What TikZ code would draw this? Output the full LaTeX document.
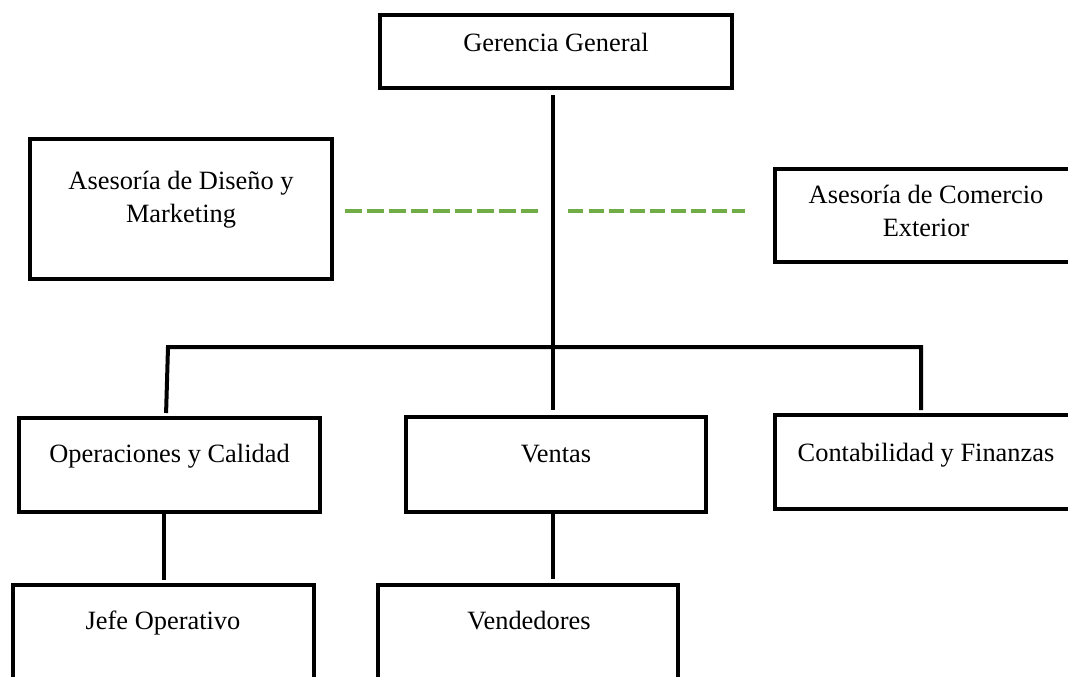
\documentclass[tikz,border=0pt]{standalone}
\usepackage{fontspec}
\setmainfont{Liberation Serif}
\definecolor{advgreen}{RGB}{112,173,71}

\begin{document}
\begin{tikzpicture}[x=1bp,y=-1bp,
    box/.style={draw,line width=4bp,rectangle,inner sep=0pt},
    lbl/.style={inner sep=0pt,align=center,font=\fontsize{26.4bp}{33bp}\selectfont},
    link/.style={line width=4bp},
    adv/.style={draw=advgreen,line width=4.5bp,dash pattern=on 17bp off 5bp}]
  \clip (0,0) rectangle (1068,677);
  % boxes
  \node[box,minimum width=352bp,minimum height=73bp] (ger) at (556,51.5) {};
  \node[box,minimum width=302bp,minimum height=140bp] (dis) at (181,209) {};
  \node[box,minimum width=302bp,minimum height=93bp] (com) at (926,215.5) {};
  \node[box,minimum width=301bp,minimum height=94bp] (ope) at (169.5,465) {};
  \node[box,minimum width=300bp,minimum height=95bp] (ven) at (556,464.5) {};
  \node[box,minimum width=302bp,minimum height=94bp] (con) at (926,462) {};
  \node[box,minimum width=301bp,minimum height=103bp] (jefe) at (163.5,636.5) {};
  \node[box,minimum width=300bp,minimum height=103bp] (vend) at (528,636.5) {};
  % texts
  \node[lbl,anchor=base] (ger-t) at (556,52) {Gerencia General};
  \node[lbl,anchor=north] (dis-t) at (181,171) {Asesoría de Diseño y\\Marketing};
  \node[lbl,anchor=north] (com-t) at (926,185) {Asesoría de Comercio\\Exterior};
  \node[lbl,anchor=base] (ope-t) at (169.5,462) {Operaciones y Calidad};
  \node[lbl,anchor=base] (ven-t) at (556,462) {Ventas};
  \node[lbl,anchor=base] (con-t) at (926,461) {Contabilidad y Finanzas};
  \node[lbl,anchor=base] (jefe-t) at (163,629) {Jefe Operativo};
  \node[lbl,anchor=base] (vend-t) at (529,629) {Vendedores};
  % lines
  \coordinate (hub) at (553,347);
  \coordinate (sp) at (553,211);
  \coordinate (barL) at (168,347);
  \coordinate (barR) at (921,347);
  \draw[link,shorten <=5bp,shorten >=5bp] (ger.south -| hub) -- (ven.north -| hub);
  \draw[link,shorten <=3bp,shorten >=3bp] ([xshift=-3.5bp]ope.north) -- (barL) -- (barR) -- (barR |- con.north);
  \draw[link,shorten >=3bp] (ope.south -| jefe.north) -- (jefe.north);
  \draw[link,shorten >=4bp] (ven.south -| hub) -- (vend.north -| hub);
  \draw[adv,shorten <=11bp,shorten >=14bp] (dis.east |- sp) -- (sp);
  \draw[adv,line width=4bp,dash pattern=on 15bp off 5.5bp,shorten <=15bp,shorten >=28bp] (sp) -- (sp -| com.west);
\end{tikzpicture}
\end{document}
